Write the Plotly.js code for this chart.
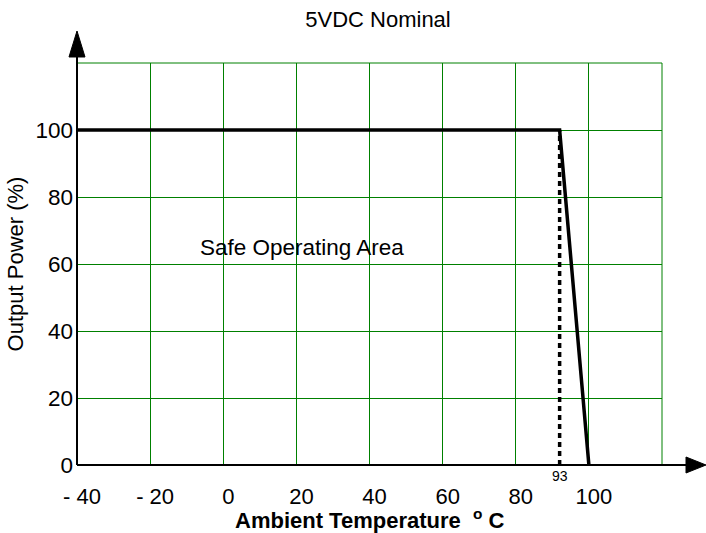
<!DOCTYPE html>
<html>
<head>
<meta charset="utf-8">
<script src="https://cdn.plot.ly/plotly-3.0.1.min.js"></script>
<style>html,body{margin:0;padding:0;background:#fff;}#chart{width:706px;height:533px;}</style>
</head>
<body>
<div id="chart"></div>
<script>
// ---- data ----
var curveTemp = [-40, 92, 100];
var curvePower = [100, 100, 0];
var kneeTemp = [92, 92];
var kneePower = [0, 100];
var xTickVals = [-40, -20, 0, 20, 40, 60, 80, 100];
var xTickText = ['- 40', '- 20', '0', '20', '40', '60', '80', '100'];
var yTickVals = [0, 20, 40, 60, 80, 100];
var yTickText = ['0', '20', '40', '60', '80', '100'];
var kneeLabel = '93';
var areaLabel = 'Safe Operating Area';
var xTitle = '<b>Ambient Temperature  <sup>o</sup> C</b>';
var yTitle = 'Output Power (%)';
var chartTitle = '5VDC Nominal';

var FONT = 'Liberation Sans, Arial, sans-serif';
var green = 'rgb(0,128,0)';

var traces = [
  {x: kneeTemp, y: kneePower, mode: 'lines', line: {color: '#000', width: 3.5, dash: '5px,4px'}, hoverinfo: 'skip', showlegend: false, cliponaxis: false},
  {x: curveTemp, y: curvePower, mode: 'lines', line: {color: '#000', width: 3.5}, hoverinfo: 'skip', showlegend: false, cliponaxis: false}
];

function P(px, py) { // pixel -> paper helper for decorations
  return ((px - 77) / 585).toFixed(5) + ',' + ((465 - py) / 402).toFixed(5);
}

var layout = {
  width: 706, height: 533,
  margin: {l: 77, r: 44, t: 63, b: 68, pad: 0},
  paper_bgcolor: '#fff', plot_bgcolor: '#fff',
  showlegend: false,
  font: {family: FONT, color: '#000', size: 22},
  title: {text: chartTitle, font: {family: FONT, size: 22, color: '#000'},
          x: (378 - 77) / 585, xref: 'paper', xanchor: 'center', y: 1 - 19 / 533, yref: 'container', yanchor: 'middle'},
  xaxis: {
    range: [-40, 120], tickmode: 'array', tickvals: xTickVals, ticktext: xTickText,
    showgrid: true, gridcolor: green, gridwidth: 1, zeroline: false, showline: false,
    ticks: '', ticklabelstandoff: 16, ticklabelshift: 5,
    tickfont: {family: FONT, size: 22, color: '#000'}
  },
  yaxis: {
    range: [0, 120], tickmode: 'array', tickvals: yTickVals, ticktext: yTickText,
    showgrid: true, gridcolor: green, gridwidth: 1, zeroline: false, showline: false,
    ticks: '', ticklabelstandoff: 3,
    tickfont: {family: FONT, size: 22.5, color: '#000'},
    title: {text: yTitle, font: {family: FONT, size: 22, color: '#000'}, standoff: 5}
  },
  shapes: [
    {type: 'rect', xref: 'paper', yref: 'paper', x0: 0, x1: 1, y0: 0, y1: 1, line: {color: green, width: 1}, layer: 'below'},
    {type: 'path', xref: 'paper', yref: 'paper', path: 'M' + P(77, 465) + 'L' + P(77, 56), line: {color: '#000', width: 2}},
    {type: 'path', xref: 'paper', yref: 'paper', path: 'M' + P(69, 57) + 'L' + P(77, 31) + 'L' + P(85, 57) + 'Z', fillcolor: '#000', line: {color: '#000', width: 1}},
    {type: 'path', xref: 'paper', yref: 'paper', path: 'M' + P(77, 465) + 'L' + P(687, 465), line: {color: '#000', width: 2}},
    {type: 'path', xref: 'paper', yref: 'paper', path: 'M' + P(686, 457) + 'L' + P(706, 465) + 'L' + P(686, 473) + 'Z', fillcolor: '#000', line: {color: '#000', width: 1}}
  ],
  annotations: [
    {x: 21.6, y: 64.8, xref: 'x', yref: 'y', text: areaLabel, showarrow: false, font: {family: FONT, size: 22.5, color: '#000'}, xanchor: 'center', yanchor: 'middle'},
    {x: kneeTemp[0], y: 0, xref: 'x', yref: 'y', text: kneeLabel, showarrow: false, font: {family: FONT, size: 14, color: '#000'}, xanchor: 'center', yanchor: 'middle', yshift: -11},
    {x: 0.5, y: (465 - 519) / 402, xref: 'paper', yref: 'paper', text: xTitle, showarrow: false, font: {family: FONT, size: 22, color: '#000'}, xanchor: 'center', yanchor: 'middle'}
  ]
};

Plotly.newPlot('chart', traces, layout, {displayModeBar: false, staticPlot: true});
</script>
</body>
</html>
